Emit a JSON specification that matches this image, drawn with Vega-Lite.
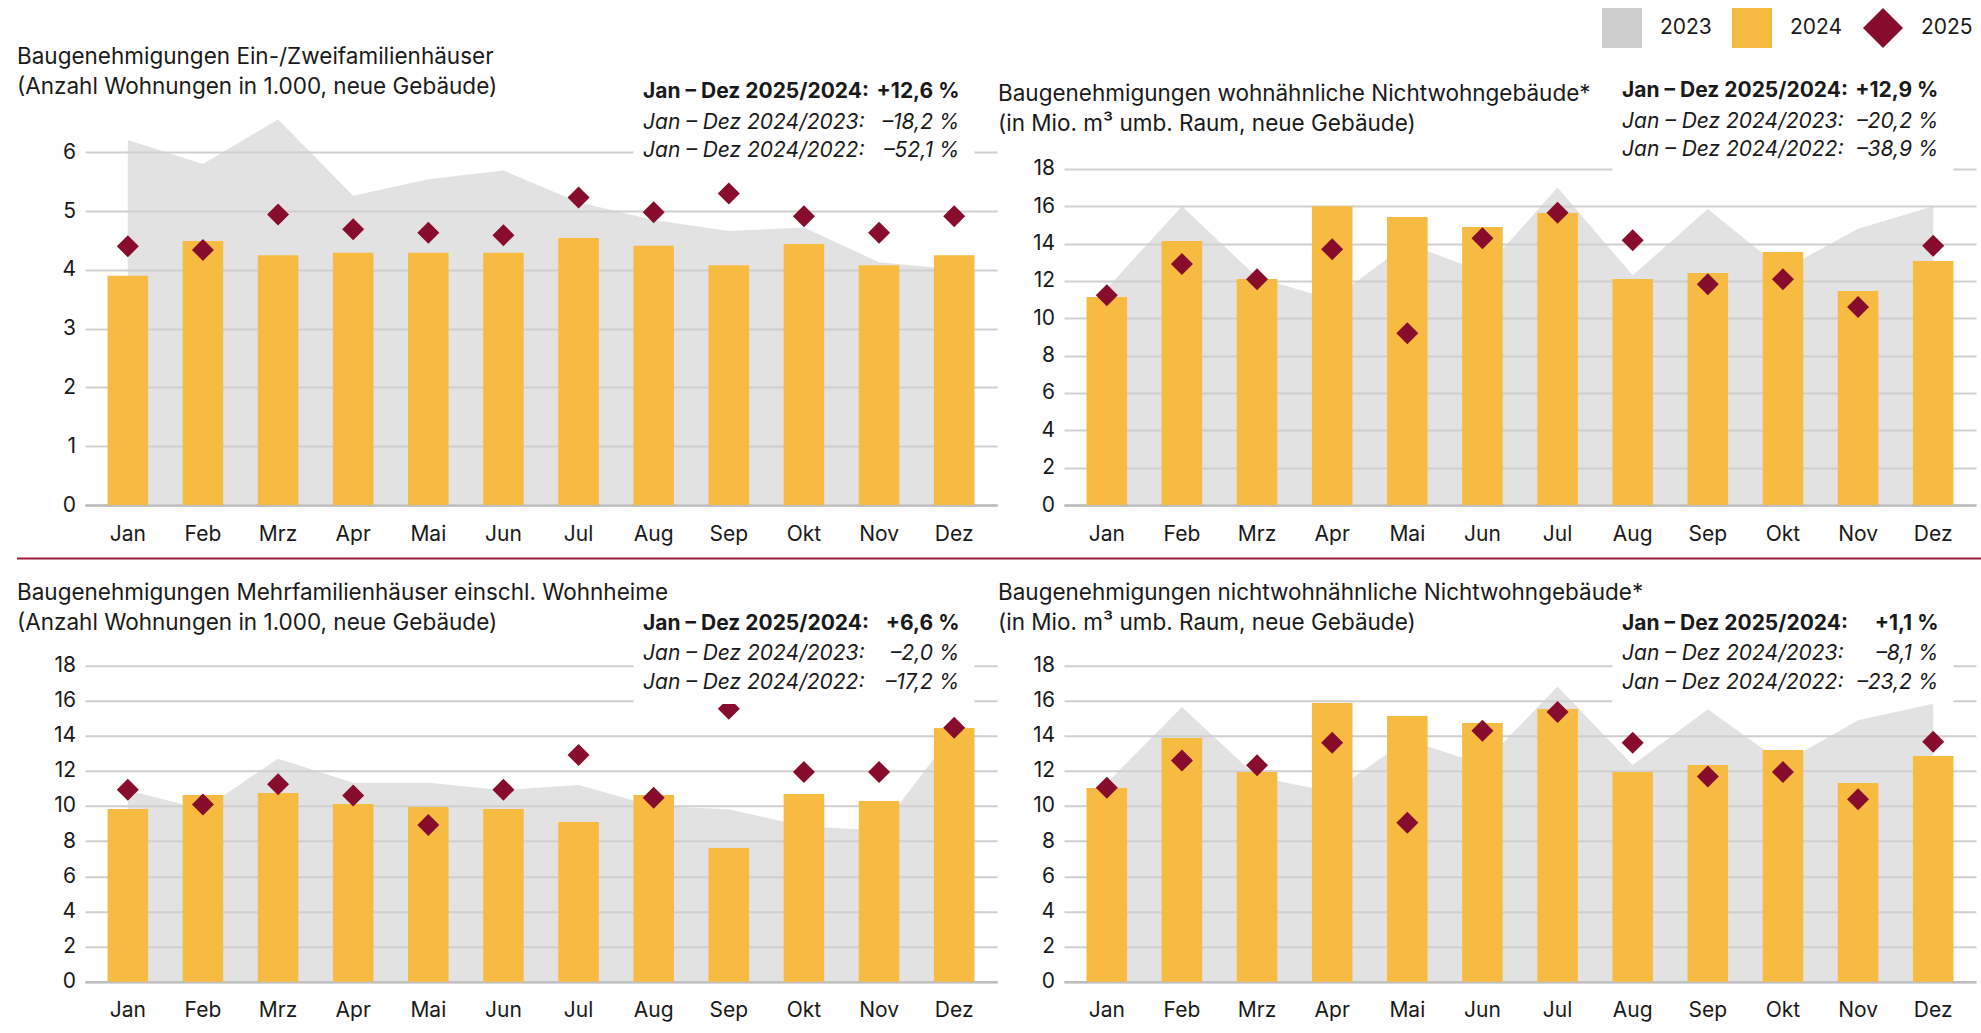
{
  "$schema": "https://vega.github.io/schema/vega-lite/v6.json",
  "background": "white",
  "padding": {"left": 17, "top": 8, "right": 0, "bottom": 0},
  "config": {
    "font": "Inter",
    "view": {"stroke": null},
    "axis": {"labelFont": "Inter", "labelFontSize": 21, "labelColor": "#1a1a1a", "ticks": false, "tickSize": 0, "domain": false, "grid": false},
    "axisY": {"grid": true, "gridColor": "#cfcfcf", "gridWidth": 2, "labelPadding": 9.5, "labelBaseline": "middle"},
    "axisX": {"labelAngle": 0, "labelPadding": 35, "labelBaseline": "alphabetic", "domain": true, "domainColor": "#bdbdbd", "domainWidth": 2.5},
    "title": {"anchor": "start", "frame": "group", "fontSize": 22.5, "fontWeight": "normal", "color": "#1a1a1a", "lineHeight": 30, "font": "Inter"},
    "text": {"font": "Inter", "fontSize": 21, "color": "#1a1a1a"}
  },
  "datasets": {
    "p1": [
      {"m": "Jan", "v2023": 6.21, "v2024": 3.90, "v2025": 4.40},
      {"m": "Feb", "v2023": 5.80, "v2024": 4.49, "v2025": 4.34},
      {"m": "Mrz", "v2023": 6.56, "v2024": 4.25, "v2025": 4.94},
      {"m": "Apr", "v2023": 5.26, "v2024": 4.29, "v2025": 4.69},
      {"m": "Mai", "v2023": 5.54, "v2024": 4.29, "v2025": 4.63},
      {"m": "Jun", "v2023": 5.69, "v2024": 4.29, "v2025": 4.59},
      {"m": "Jul", "v2023": 5.15, "v2024": 4.54, "v2025": 5.23},
      {"m": "Aug", "v2023": 4.85, "v2024": 4.41, "v2025": 4.98},
      {"m": "Sep", "v2023": 4.66, "v2024": 4.08, "v2025": 5.30},
      {"m": "Okt", "v2023": 4.72, "v2024": 4.44, "v2025": 4.91},
      {"m": "Nov", "v2023": 4.13, "v2024": 4.08, "v2025": 4.63},
      {"m": "Dez", "v2023": 4.01, "v2024": 4.25, "v2025": 4.91}
    ],
    "p2": [
      {"m": "Jan", "v2023": 11.6, "v2024": 11.14, "v2025": 11.23},
      {"m": "Feb", "v2023": 16.0, "v2024": 14.14, "v2025": 12.91},
      {"m": "Mrz", "v2023": 12.2, "v2024": 12.11, "v2025": 12.09},
      {"m": "Apr", "v2023": 11.0, "v2024": 16.0, "v2025": 13.70},
      {"m": "Mai", "v2023": 14.0, "v2024": 15.43, "v2025": 9.20},
      {"m": "Jun", "v2023": 12.5, "v2024": 14.89, "v2025": 14.29},
      {"m": "Jul", "v2023": 17.0, "v2024": 15.64, "v2025": 15.66},
      {"m": "Aug", "v2023": 12.3, "v2024": 12.11, "v2025": 14.18},
      {"m": "Sep", "v2023": 15.85, "v2024": 12.43, "v2025": 11.82},
      {"m": "Okt", "v2023": 12.6, "v2024": 13.55, "v2025": 12.09},
      {"m": "Nov", "v2023": 14.8, "v2024": 11.46, "v2025": 10.61},
      {"m": "Dez", "v2023": 16.0, "v2024": 13.07, "v2025": 13.88}
    ],
    "p3": [
      {"m": "Jan", "v2023": 10.9, "v2024": 9.83, "v2025": 10.93},
      {"m": "Feb", "v2023": 9.8, "v2024": 10.62, "v2025": 10.09},
      {"m": "Mrz", "v2023": 12.69, "v2024": 10.74, "v2025": 11.23},
      {"m": "Apr", "v2023": 11.32, "v2024": 10.11, "v2025": 10.60},
      {"m": "Mai", "v2023": 11.32, "v2024": 9.94, "v2025": 8.92},
      {"m": "Jun", "v2023": 10.9, "v2024": 9.83, "v2025": 10.93},
      {"m": "Jul", "v2023": 11.19, "v2024": 9.09, "v2025": 12.90},
      {"m": "Aug", "v2023": 10.0, "v2024": 10.62, "v2025": 10.47},
      {"m": "Sep", "v2023": 9.81, "v2024": 7.61, "v2025": 15.53},
      {"m": "Okt", "v2023": 8.85, "v2024": 10.68, "v2025": 11.93},
      {"m": "Nov", "v2023": 8.6, "v2024": 10.28, "v2025": 11.93},
      {"m": "Dez", "v2023": 14.2, "v2024": 14.43, "v2025": 14.45}
    ],
    "p4": [
      {"m": "Jan", "v2023": 11.3, "v2024": 11.02, "v2025": 11.04},
      {"m": "Feb", "v2023": 15.63, "v2024": 13.87, "v2025": 12.58},
      {"m": "Mrz", "v2023": 11.65, "v2024": 11.93, "v2025": 12.31},
      {"m": "Apr", "v2023": 10.8, "v2024": 15.86, "v2025": 13.60},
      {"m": "Mai", "v2023": 13.75, "v2024": 15.12, "v2025": 9.05},
      {"m": "Jun", "v2023": 12.38, "v2024": 14.72, "v2025": 14.28},
      {"m": "Jul", "v2023": 16.79, "v2024": 15.52, "v2025": 15.35},
      {"m": "Aug", "v2023": 12.33, "v2024": 11.93, "v2025": 13.60},
      {"m": "Sep", "v2023": 15.5, "v2024": 12.33, "v2025": 11.67},
      {"m": "Okt", "v2023": 12.44, "v2024": 13.18, "v2025": 11.93},
      {"m": "Nov", "v2023": 14.87, "v2024": 11.31, "v2025": 10.38},
      {"m": "Dez", "v2023": 15.82, "v2024": 12.84, "v2025": 13.66}
    ],
    "notes": [
      {"p": "p1", "k": 1, "label": "Jan – Dez 2025/2024:", "val": "+12,6 %"},
      {"p": "p1", "k": 2, "label": "Jan – Dez 2024/2023:", "val": "–18,2 %"},
      {"p": "p1", "k": 3, "label": "Jan – Dez 2024/2022:", "val": "–52,1 %"},
      {"p": "p2", "k": 1, "label": "Jan – Dez 2025/2024:", "val": "+12,9 %"},
      {"p": "p2", "k": 2, "label": "Jan – Dez 2024/2023:", "val": "–20,2 %"},
      {"p": "p2", "k": 3, "label": "Jan – Dez 2024/2022:", "val": "–38,9 %"},
      {"p": "p3", "k": 1, "label": "Jan – Dez 2025/2024:", "val": "+6,6 %"},
      {"p": "p3", "k": 2, "label": "Jan – Dez 2024/2023:", "val": "–2,0 %"},
      {"p": "p3", "k": 3, "label": "Jan – Dez 2024/2022:", "val": "–17,2 %"},
      {"p": "p4", "k": 1, "label": "Jan – Dez 2025/2024:", "val": "+1,1 %"},
      {"p": "p4", "k": 2, "label": "Jan – Dez 2024/2023:", "val": "–8,1 %"},
      {"p": "p4", "k": 3, "label": "Jan – Dez 2024/2022:", "val": "–23,2 %"}
    ]
  },
  "bounds": "full",
  "spacing": -2000,
  "resolve": {"scale": {"color": "shared"}},
  "vconcat": [
    {
      "bounds": "full",
      "spacing": 37.8,
      "vconcat": [
        {
          "bounds": "flush",
          "spacing": 67,
          "hconcat": [
            {
              "width": 912, "height": 435,
              "title": {"text": ["Baugenehmigungen Ein-/Zweifamilienhäuser", "(Anzahl Wohnungen in 1.000, neue Gebäude)"], "dx": -68, "offset": -28.4},
              "data": {"name": "p1"},
              "layer": [
                {"mark": {"type": "area", "opacity": 0.6},
                 "encoding": {
                   "x": {"field": "m", "type": "ordinal", "sort": null, "bandPosition": 0.5, "scale": {"type": "band", "domain": ["Jan","Feb","Mrz","Apr","Mai","Jun","Jul","Aug","Sep","Okt","Nov","Dez"], "paddingInner": 0.46, "paddingOuter": 0.3}, "axis": {"title": null}},
                   "y": {"field": "v2023", "type": "quantitative", "scale": {"domain": [0, 7.4], "nice": false}, "axis": {"title": null, "values": [0,1,2,3,4,5,6], "format": "d"}},
                   "color": {"datum": "2023", "scale": {"domain": ["2023","2024","2025"], "range": ["#cecece","#f8bb42","#880c2c"]},
                     "legend": {"orient": "none", "legendX": 1517, "legendY": -62, "direction": "horizontal", "title": null, "symbolSize": 1600, "symbolType": "square", "labelFontSize": 21, "labelFont": "Inter", "labelColor": "#1a1a1a", "labelOffset": 18, "columnPadding": 20, "padding": 0, "symbolStrokeWidth": 0, "symbolOpacity": 1,
                       "encode": {"symbols": {"update": {"shape": {"signal": "datum.value === '2025' ? 'diamond' : 'square'"}, "fill": {"signal": "datum.value === '2023' ? '#e1e1e1' : datum.value === '2024' ? '#f8bb42' : '#880c2c'"}, "opacity": {"value": 1}, "strokeWidth": {"value": 0}}}}}}
                 }},
                {"mark": {"type": "bar"},
                 "encoding": {"x": {"field": "m", "type": "ordinal", "sort": null}, "y": {"field": "v2024", "type": "quantitative"}, "color": {"datum": "2024"}}},
                {"mark": {"type": "point", "shape": "diamond", "size": 484, "filled": true, "opacity": 1, "strokeWidth": 0},
                 "encoding": {"x": {"field": "m", "type": "ordinal", "sort": null, "bandPosition": 0.5}, "y": {"field": "v2025", "type": "quantitative"}, "color": {"datum": "2025"}}},
                {"data": {"values": [{}]}, "mark": {"type": "rect", "color": "white"},
                 "encoding": {"x": {"datum": "Aug", "type": "ordinal", "bandPosition": 0}, "x2": {"datum": "Dez", "bandPosition": 1}, "y": {"datum": 5.72, "type": "quantitative"}, "y2": {"datum": 7.4}}},
                {"data": {"name": "notes"}, "transform": [{"filter": "datum.p === 'p1' && datum.k === 1"}],
                 "mark": {"type": "text", "align": "left", "baseline": "alphabetic", "fontWeight": "bold", "dx": 9.6},
                 "encoding": {"x": {"datum": "Aug", "type": "ordinal", "bandPosition": 0}, "y": {"datum": 6.93, "type": "quantitative"}, "text": {"field": "label"}}},
                {"data": {"name": "notes"}, "transform": [{"filter": "datum.p === 'p1' && datum.k === 1"}],
                 "mark": {"type": "text", "align": "right", "baseline": "alphabetic", "fontWeight": "bold", "dx": -15},
                 "encoding": {"x": {"datum": "Dez", "type": "ordinal", "bandPosition": 1}, "y": {"datum": 6.93, "type": "quantitative"}, "text": {"field": "val"}}},
                {"data": {"name": "notes"}, "transform": [{"filter": "datum.p === 'p1' && datum.k === 2"}],
                 "mark": {"type": "text", "align": "left", "baseline": "alphabetic", "fontStyle": "italic", "dx": 9.6, "dy": 31},
                 "encoding": {"x": {"datum": "Aug", "type": "ordinal", "bandPosition": 0}, "y": {"datum": 6.93, "type": "quantitative"}, "text": {"field": "label"}}},
                {"data": {"name": "notes"}, "transform": [{"filter": "datum.p === 'p1' && datum.k === 2"}],
                 "mark": {"type": "text", "align": "right", "baseline": "alphabetic", "fontStyle": "italic", "dx": -15, "dy": 31},
                 "encoding": {"x": {"datum": "Dez", "type": "ordinal", "bandPosition": 1}, "y": {"datum": 6.93, "type": "quantitative"}, "text": {"field": "val"}}},
                {"data": {"name": "notes"}, "transform": [{"filter": "datum.p === 'p1' && datum.k === 3"}],
                 "mark": {"type": "text", "align": "left", "baseline": "alphabetic", "fontStyle": "italic", "dx": 9.6, "dy": 59},
                 "encoding": {"x": {"datum": "Aug", "type": "ordinal", "bandPosition": 0}, "y": {"datum": 6.93, "type": "quantitative"}, "text": {"field": "label"}}},
                {"data": {"name": "notes"}, "transform": [{"filter": "datum.p === 'p1' && datum.k === 3"}],
                 "mark": {"type": "text", "align": "right", "baseline": "alphabetic", "fontStyle": "italic", "dx": -15, "dy": 59},
                 "encoding": {"x": {"datum": "Dez", "type": "ordinal", "bandPosition": 1}, "y": {"datum": 6.93, "type": "quantitative"}, "text": {"field": "val"}}}
              ]
            },
            {
              "width": 912, "height": 435,
              "title": {"text": ["Baugenehmigungen wohnähnliche Nichtwohngebäude*", "(in Mio. m³ umb. Raum, neue Gebäude)"], "dx": -66, "offset": -65},
              "data": {"name": "p2"},
              "layer": [
                {"mark": {"type": "area", "opacity": 0.6},
                 "encoding": {
                   "x": {"field": "m", "type": "ordinal", "sort": null, "bandPosition": 0.5, "scale": {"type": "band", "domain": ["Jan","Feb","Mrz","Apr","Mai","Jun","Jul","Aug","Sep","Okt","Nov","Dez"], "paddingInner": 0.46, "paddingOuter": 0.3}, "axis": {"title": null}},
                   "y": {"field": "v2023", "type": "quantitative", "scale": {"domain": [0, 23.3], "nice": false}, "axis": {"title": null, "values": [0,2,4,6,8,10,12,14,16,18]}},
                   "color": {"datum": "2023"}
                 }},
                {"mark": {"type": "bar"},
                 "encoding": {"x": {"field": "m", "type": "ordinal", "sort": null}, "y": {"field": "v2024", "type": "quantitative"}, "color": {"datum": "2024"}}},
                {"mark": {"type": "point", "shape": "diamond", "size": 484, "filled": true, "opacity": 1, "strokeWidth": 0},
                 "encoding": {"x": {"field": "m", "type": "ordinal", "sort": null, "bandPosition": 0.5}, "y": {"field": "v2025", "type": "quantitative"}, "color": {"datum": "2025"}}},
                {"data": {"values": [{}]}, "mark": {"type": "rect", "color": "white"},
                 "encoding": {"x": {"datum": "Aug", "type": "ordinal", "bandPosition": 0}, "x2": {"datum": "Dez", "bandPosition": 1}, "y": {"datum": 17.6, "type": "quantitative"}, "y2": {"datum": 23.3}}},
                {"data": {"name": "notes"}, "transform": [{"filter": "datum.p === 'p2' && datum.k === 1"}],
                 "mark": {"type": "text", "align": "left", "baseline": "alphabetic", "fontWeight": "bold", "dx": 9.6},
                 "encoding": {"x": {"datum": "Aug", "type": "ordinal", "bandPosition": 0}, "y": {"datum": 21.83, "type": "quantitative"}, "text": {"field": "label"}}},
                {"data": {"name": "notes"}, "transform": [{"filter": "datum.p === 'p2' && datum.k === 1"}],
                 "mark": {"type": "text", "align": "right", "baseline": "alphabetic", "fontWeight": "bold", "dx": -15},
                 "encoding": {"x": {"datum": "Dez", "type": "ordinal", "bandPosition": 1}, "y": {"datum": 21.83, "type": "quantitative"}, "text": {"field": "val"}}},
                {"data": {"name": "notes"}, "transform": [{"filter": "datum.p === 'p2' && datum.k === 2"}],
                 "mark": {"type": "text", "align": "left", "baseline": "alphabetic", "fontStyle": "italic", "dx": 9.6, "dy": 31},
                 "encoding": {"x": {"datum": "Aug", "type": "ordinal", "bandPosition": 0}, "y": {"datum": 21.83, "type": "quantitative"}, "text": {"field": "label"}}},
                {"data": {"name": "notes"}, "transform": [{"filter": "datum.p === 'p2' && datum.k === 2"}],
                 "mark": {"type": "text", "align": "right", "baseline": "alphabetic", "fontStyle": "italic", "dx": -15, "dy": 31},
                 "encoding": {"x": {"datum": "Dez", "type": "ordinal", "bandPosition": 1}, "y": {"datum": 21.83, "type": "quantitative"}, "text": {"field": "val"}}},
                {"data": {"name": "notes"}, "transform": [{"filter": "datum.p === 'p2' && datum.k === 3"}],
                 "mark": {"type": "text", "align": "left", "baseline": "alphabetic", "fontStyle": "italic", "dx": 9.6, "dy": 59},
                 "encoding": {"x": {"datum": "Aug", "type": "ordinal", "bandPosition": 0}, "y": {"datum": 21.83, "type": "quantitative"}, "text": {"field": "label"}}},
                {"data": {"name": "notes"}, "transform": [{"filter": "datum.p === 'p2' && datum.k === 3"}],
                 "mark": {"type": "text", "align": "right", "baseline": "alphabetic", "fontStyle": "italic", "dx": -15, "dy": 59},
                 "encoding": {"x": {"datum": "Dez", "type": "ordinal", "bandPosition": 1}, "y": {"datum": 21.83, "type": "quantitative"}, "text": {"field": "val"}}}
              ]
            }
          ]
        },
        {
          "bounds": "flush",
          "spacing": 67,
          "hconcat": [
            {
              "width": 912, "height": 381,
              "title": {"text": ["Baugenehmigungen Mehrfamilienhäuser einschl. Wohnheime", "(Anzahl Wohnungen in 1.000, neue Gebäude)"], "dx": -68, "offset": -33.7},
              "data": {"name": "p3"},
              "layer": [
                {"mark": {"type": "area", "opacity": 0.6},
                 "encoding": {
                   "x": {"field": "m", "type": "ordinal", "sort": null, "bandPosition": 0.5, "scale": {"type": "band", "domain": ["Jan","Feb","Mrz","Apr","Mai","Jun","Jul","Aug","Sep","Okt","Nov","Dez"], "paddingInner": 0.46, "paddingOuter": 0.3}, "axis": {"title": null}},
                   "y": {"field": "v2023", "type": "quantitative", "scale": {"domain": [0, 21.67], "nice": false}, "axis": {"title": null, "values": [0,2,4,6,8,10,12,14,16,18]}},
                   "color": {"datum": "2023"}
                 }},
                {"mark": {"type": "bar"},
                 "encoding": {"x": {"field": "m", "type": "ordinal", "sort": null}, "y": {"field": "v2024", "type": "quantitative"}, "color": {"datum": "2024"}}},
                {"mark": {"type": "point", "shape": "diamond", "size": 484, "filled": true, "opacity": 1, "strokeWidth": 0},
                 "encoding": {"x": {"field": "m", "type": "ordinal", "sort": null, "bandPosition": 0.5}, "y": {"field": "v2025", "type": "quantitative"}, "color": {"datum": "2025"}}},
                {"data": {"values": [{}]}, "mark": {"type": "rect", "color": "white"},
                 "encoding": {"x": {"datum": "Aug", "type": "ordinal", "bandPosition": 0}, "x2": {"datum": "Dez", "bandPosition": 1}, "y": {"datum": 15.8, "type": "quantitative"}, "y2": {"datum": 21.67}}},
                {"data": {"name": "notes"}, "transform": [{"filter": "datum.p === 'p3' && datum.k === 1"}],
                 "mark": {"type": "text", "align": "left", "baseline": "alphabetic", "fontWeight": "bold", "dx": 9.6},
                 "encoding": {"x": {"datum": "Aug", "type": "ordinal", "bandPosition": 0}, "y": {"datum": 20.0, "type": "quantitative"}, "text": {"field": "label"}}},
                {"data": {"name": "notes"}, "transform": [{"filter": "datum.p === 'p3' && datum.k === 1"}],
                 "mark": {"type": "text", "align": "right", "baseline": "alphabetic", "fontWeight": "bold", "dx": -15},
                 "encoding": {"x": {"datum": "Dez", "type": "ordinal", "bandPosition": 1}, "y": {"datum": 20.0, "type": "quantitative"}, "text": {"field": "val"}}},
                {"data": {"name": "notes"}, "transform": [{"filter": "datum.p === 'p3' && datum.k === 2"}],
                 "mark": {"type": "text", "align": "left", "baseline": "alphabetic", "fontStyle": "italic", "dx": 9.6, "dy": 29.7},
                 "encoding": {"x": {"datum": "Aug", "type": "ordinal", "bandPosition": 0}, "y": {"datum": 20.0, "type": "quantitative"}, "text": {"field": "label"}}},
                {"data": {"name": "notes"}, "transform": [{"filter": "datum.p === 'p3' && datum.k === 2"}],
                 "mark": {"type": "text", "align": "right", "baseline": "alphabetic", "fontStyle": "italic", "dx": -15, "dy": 29.7},
                 "encoding": {"x": {"datum": "Dez", "type": "ordinal", "bandPosition": 1}, "y": {"datum": 20.0, "type": "quantitative"}, "text": {"field": "val"}}},
                {"data": {"name": "notes"}, "transform": [{"filter": "datum.p === 'p3' && datum.k === 3"}],
                 "mark": {"type": "text", "align": "left", "baseline": "alphabetic", "fontStyle": "italic", "dx": 9.6, "dy": 58.4},
                 "encoding": {"x": {"datum": "Aug", "type": "ordinal", "bandPosition": 0}, "y": {"datum": 20.0, "type": "quantitative"}, "text": {"field": "label"}}},
                {"data": {"name": "notes"}, "transform": [{"filter": "datum.p === 'p3' && datum.k === 3"}],
                 "mark": {"type": "text", "align": "right", "baseline": "alphabetic", "fontStyle": "italic", "dx": -15, "dy": 58.4},
                 "encoding": {"x": {"datum": "Dez", "type": "ordinal", "bandPosition": 1}, "y": {"datum": 20.0, "type": "quantitative"}, "text": {"field": "val"}}}
              ]
            },
            {
              "width": 912, "height": 381,
              "title": {"text": ["Baugenehmigungen nichtwohnähnliche Nichtwohngebäude*", "(in Mio. m³ umb. Raum, neue Gebäude)"], "dx": -66, "offset": -33.7},
              "data": {"name": "p4"},
              "layer": [
                {"mark": {"type": "area", "opacity": 0.6},
                 "encoding": {
                   "x": {"field": "m", "type": "ordinal", "sort": null, "bandPosition": 0.5, "scale": {"type": "band", "domain": ["Jan","Feb","Mrz","Apr","Mai","Jun","Jul","Aug","Sep","Okt","Nov","Dez"], "paddingInner": 0.46, "paddingOuter": 0.3}, "axis": {"title": null}},
                   "y": {"field": "v2023", "type": "quantitative", "scale": {"domain": [0, 21.67], "nice": false}, "axis": {"title": null, "values": [0,2,4,6,8,10,12,14,16,18]}},
                   "color": {"datum": "2023"}
                 }},
                {"mark": {"type": "bar"},
                 "encoding": {"x": {"field": "m", "type": "ordinal", "sort": null}, "y": {"field": "v2024", "type": "quantitative"}, "color": {"datum": "2024"}}},
                {"mark": {"type": "point", "shape": "diamond", "size": 484, "filled": true, "opacity": 1, "strokeWidth": 0},
                 "encoding": {"x": {"field": "m", "type": "ordinal", "sort": null, "bandPosition": 0.5}, "y": {"field": "v2025", "type": "quantitative"}, "color": {"datum": "2025"}}},
                {"data": {"values": [{}]}, "mark": {"type": "rect", "color": "white"},
                 "encoding": {"x": {"datum": "Aug", "type": "ordinal", "bandPosition": 0}, "x2": {"datum": "Dez", "bandPosition": 1}, "y": {"datum": 15.8, "type": "quantitative"}, "y2": {"datum": 21.67}}},
                {"data": {"name": "notes"}, "transform": [{"filter": "datum.p === 'p4' && datum.k === 1"}],
                 "mark": {"type": "text", "align": "left", "baseline": "alphabetic", "fontWeight": "bold", "dx": 9.6},
                 "encoding": {"x": {"datum": "Aug", "type": "ordinal", "bandPosition": 0}, "y": {"datum": 20.0, "type": "quantitative"}, "text": {"field": "label"}}},
                {"data": {"name": "notes"}, "transform": [{"filter": "datum.p === 'p4' && datum.k === 1"}],
                 "mark": {"type": "text", "align": "right", "baseline": "alphabetic", "fontWeight": "bold", "dx": -15},
                 "encoding": {"x": {"datum": "Dez", "type": "ordinal", "bandPosition": 1}, "y": {"datum": 20.0, "type": "quantitative"}, "text": {"field": "val"}}},
                {"data": {"name": "notes"}, "transform": [{"filter": "datum.p === 'p4' && datum.k === 2"}],
                 "mark": {"type": "text", "align": "left", "baseline": "alphabetic", "fontStyle": "italic", "dx": 9.6, "dy": 29.7},
                 "encoding": {"x": {"datum": "Aug", "type": "ordinal", "bandPosition": 0}, "y": {"datum": 20.0, "type": "quantitative"}, "text": {"field": "label"}}},
                {"data": {"name": "notes"}, "transform": [{"filter": "datum.p === 'p4' && datum.k === 2"}],
                 "mark": {"type": "text", "align": "right", "baseline": "alphabetic", "fontStyle": "italic", "dx": -15, "dy": 29.7},
                 "encoding": {"x": {"datum": "Dez", "type": "ordinal", "bandPosition": 1}, "y": {"datum": 20.0, "type": "quantitative"}, "text": {"field": "val"}}},
                {"data": {"name": "notes"}, "transform": [{"filter": "datum.p === 'p4' && datum.k === 3"}],
                 "mark": {"type": "text", "align": "left", "baseline": "alphabetic", "fontStyle": "italic", "dx": 9.6, "dy": 58.4},
                 "encoding": {"x": {"datum": "Aug", "type": "ordinal", "bandPosition": 0}, "y": {"datum": 20.0, "type": "quantitative"}, "text": {"field": "label"}}},
                {"data": {"name": "notes"}, "transform": [{"filter": "datum.p === 'p4' && datum.k === 3"}],
                 "mark": {"type": "text", "align": "right", "baseline": "alphabetic", "fontStyle": "italic", "dx": -15, "dy": 58.4},
                 "encoding": {"x": {"datum": "Dez", "type": "ordinal", "bandPosition": 1}, "y": {"datum": 20.0, "type": "quantitative"}, "text": {"field": "val"}}}
              ]
            }
          ]
        }
      ]
    },
    {
      "width": 1964, "height": 1,
      "data": {"values": [{"v": 0}]},
      "mark": {"type": "rule", "opacity": 0},
      "encoding": {"x": {"field": "v", "type": "quantitative", "axis": {"orient": "top", "labels": false, "ticks": false, "grid": false, "title": null, "domain": true, "domainColor": "#9a1f36", "domainWidth": 2.2, "translate": -68, "offset": 394.5}}}
    }
  ]
}
